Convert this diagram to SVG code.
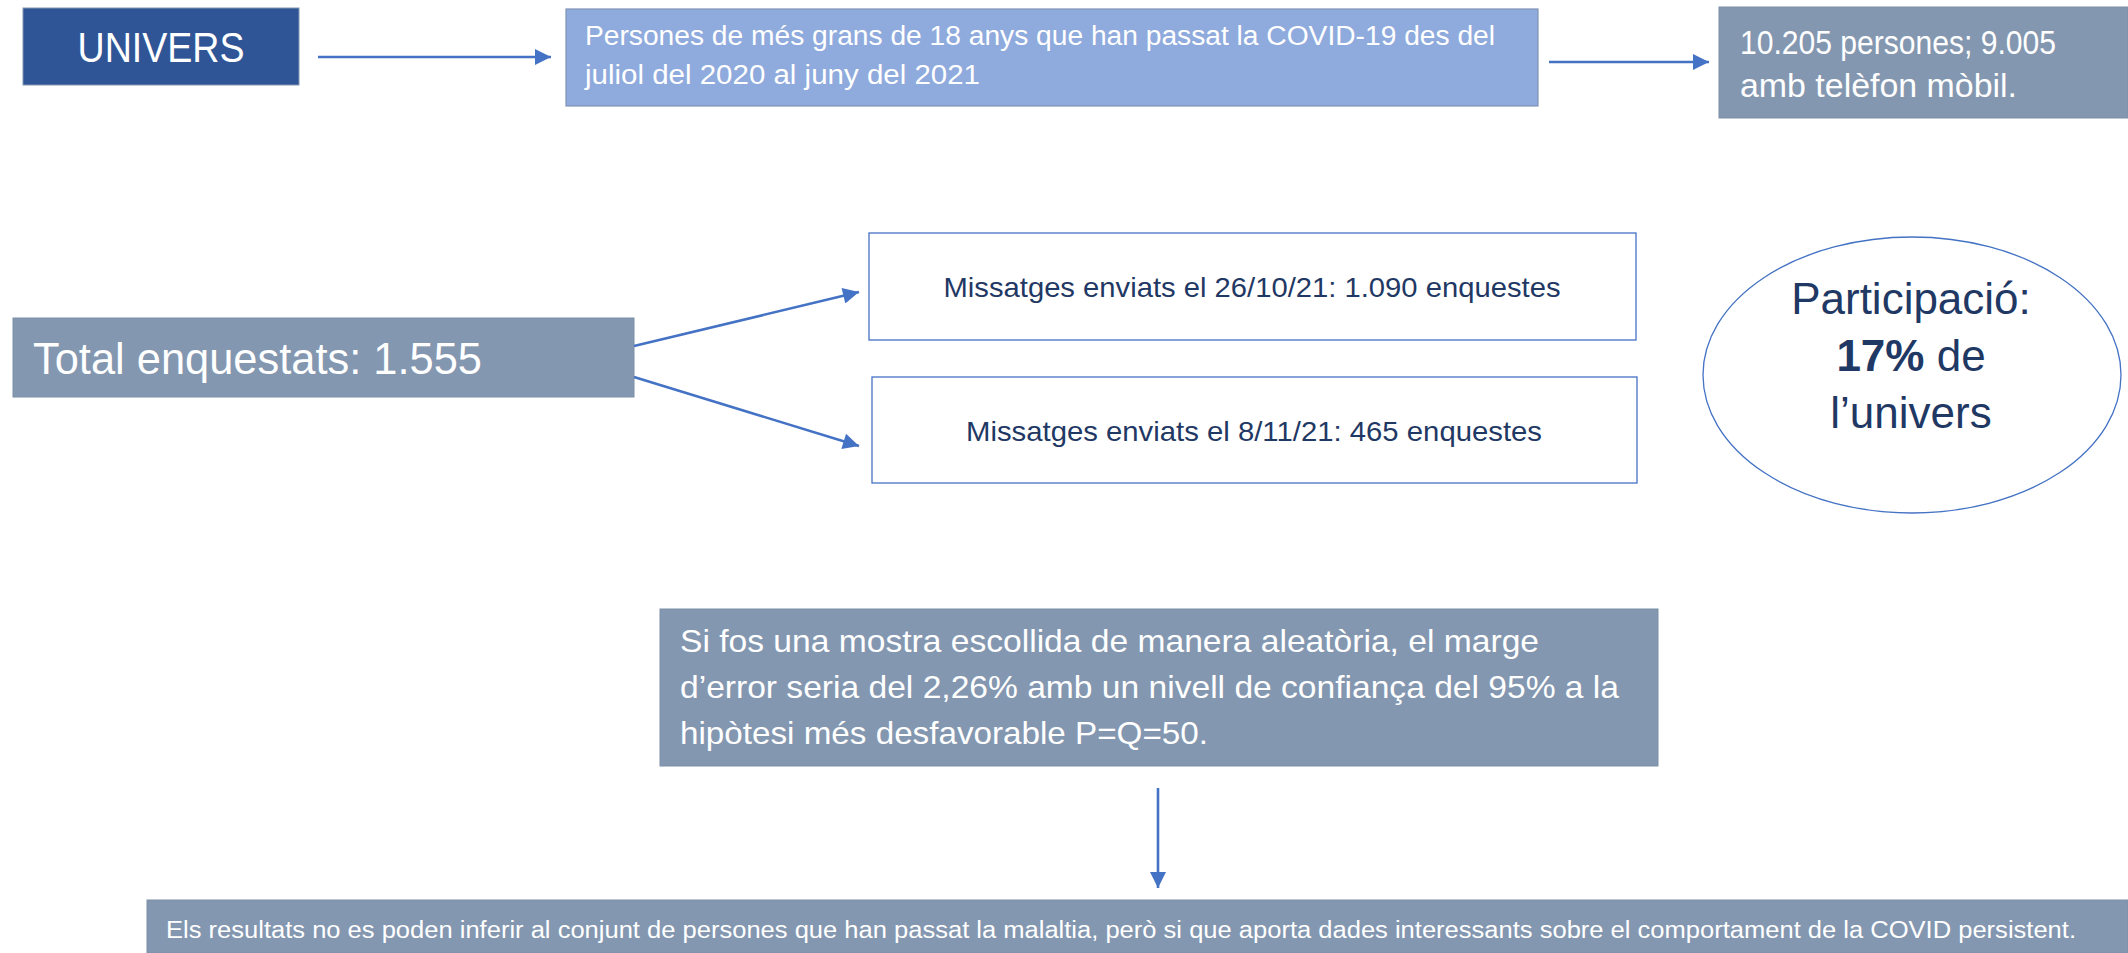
<svg xmlns="http://www.w3.org/2000/svg" width="2128" height="953" viewBox="0 0 2128 953">
<defs>
<marker id="ah" viewBox="0 0 10 10" refX="10" refY="5" markerUnits="userSpaceOnUse" markerWidth="18" markerHeight="16" orient="auto">
<path d="M0,0 L10,5 L0,10 z" fill="#4472C4"/>
</marker>
<style>
.t{font-family:"Liberation Sans",Arial,sans-serif;}
.w{fill:#FFFFFF;}
.n{fill:#1F3864;}
.gray{fill:#8497B0;stroke:#7C8FA8;stroke-width:1;}
.wb{fill:#FFFFFF;stroke:#4472C4;stroke-width:1.3;}
.c{stroke:#4472C4;stroke-width:2.6;fill:none;marker-end:url(#ah);}
</style>
</defs>
<rect width="2128" height="953" fill="#FFFFFF"/>
<g id="univers">
<rect x="23" y="8" width="276" height="77" fill="#2F5597" stroke="#8497B0" stroke-width="1"/>
<text class="t w" x="161" y="62" font-size="43" text-anchor="middle" textLength="167" lengthAdjust="spacingAndGlyphs">UNIVERS</text>
</g>
<g id="persones">
<rect x="566" y="9" width="972" height="97" fill="#8FAADC" stroke="#7F93B4" stroke-width="1.2"/>
<text class="t w" x="585" y="45" font-size="27" textLength="910" lengthAdjust="spacingAndGlyphs">Persones de més grans de 18 anys que han passat la COVID-19 des del</text>
<text class="t w" x="585" y="84" font-size="27" textLength="395" lengthAdjust="spacingAndGlyphs">juliol del 2020 al juny del 2021</text>
</g>
<g id="persones-total">
<rect class="gray" x="1719" y="7" width="409" height="111"/>
<text class="t w" x="1740" y="54" font-size="34" textLength="316" lengthAdjust="spacingAndGlyphs">10.205 persones; 9.005</text>
<text class="t w" x="1740" y="97" font-size="34" textLength="277" lengthAdjust="spacingAndGlyphs">amb telèfon mòbil.</text>
</g>
<g id="total">
<rect class="gray" x="13" y="318" width="621" height="79"/>
<text class="t w" x="33" y="374" font-size="44" textLength="449" lengthAdjust="spacingAndGlyphs">Total enquestats: 1.555</text>
</g>
<g id="missatges1">
<rect class="wb" x="869" y="233" width="767" height="107"/>
<text class="t n" x="1252" y="297" font-size="28" text-anchor="middle" textLength="617" lengthAdjust="spacingAndGlyphs">Missatges enviats el 26/10/21: 1.090 enquestes</text>
</g>
<g id="missatges2">
<rect class="wb" x="872" y="377" width="765" height="106"/>
<text class="t n" x="1254" y="441" font-size="28" text-anchor="middle" textLength="576" lengthAdjust="spacingAndGlyphs">Missatges enviats el 8/11/21: 465 enquestes</text>
</g>
<g id="participacio">
<ellipse cx="1912" cy="375" rx="209" ry="138" fill="#FFFFFF" stroke="#4472C4" stroke-width="1.3"/>
<text class="t n" x="1911" y="314" font-size="44" text-anchor="middle">Participació:</text>
<text class="t n" x="1911" y="371" font-size="44" text-anchor="middle"><tspan font-weight="bold">17%</tspan> de</text>
<text class="t n" x="1911" y="428" font-size="44" text-anchor="middle">l’univers</text>
</g>
<g id="marge">
<rect class="gray" x="660" y="609" width="998" height="157"/>
<text class="t w" x="680" y="652" font-size="32" textLength="859" lengthAdjust="spacingAndGlyphs">Si fos una mostra escollida de manera aleatòria, el marge</text>
<text class="t w" x="680" y="698" font-size="32" textLength="939" lengthAdjust="spacingAndGlyphs">d’error seria del 2,26% amb un nivell de confiança del 95% a la</text>
<text class="t w" x="680" y="744" font-size="32" textLength="528" lengthAdjust="spacingAndGlyphs">hipòtesi més desfavorable P=Q=50.</text>
</g>
<g id="conclusio">
<rect class="gray" x="147" y="900" width="1981" height="53"/>
<text class="t w" x="166" y="938" font-size="23" textLength="1910" lengthAdjust="spacingAndGlyphs">Els resultats no es poden inferir al conjunt de persones que han passat la malaltia, però si que aporta dades interessants sobre el comportament de la COVID persistent.</text>
</g>
<g id="connectors">
<line class="c" x1="318" y1="57" x2="551" y2="57"/>
<line class="c" x1="1549" y1="62" x2="1709" y2="62"/>
<line class="c" x1="634" y1="346" x2="859" y2="292"/>
<line class="c" x1="634" y1="377" x2="859" y2="446"/>
<line class="c" x1="1158" y1="788" x2="1158" y2="888"/>
</g>
</svg>
